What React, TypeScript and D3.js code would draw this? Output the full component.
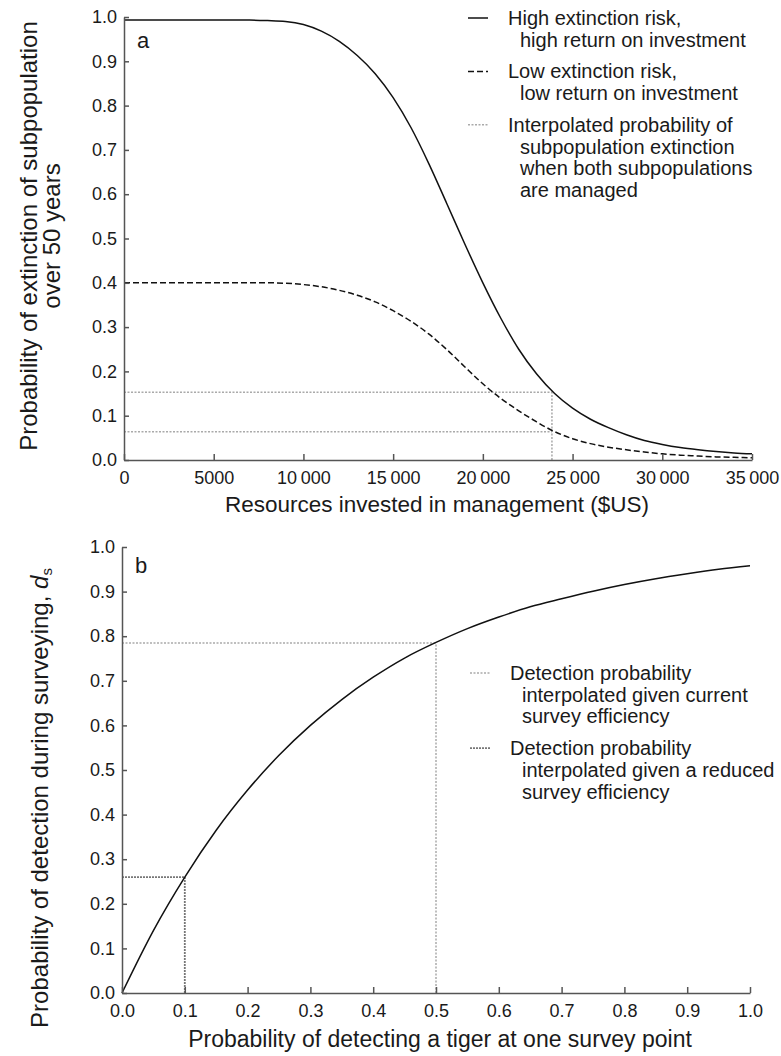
import React, { useEffect, useRef } from "react";
import * as d3 from "d3";

const FONT = '"Liberation Sans", Arial, Helvetica, sans-serif';

// Panel a: resources invested in management ($US)
const investment = [
  0, 1000, 2000, 3000, 4000, 5000, 6000, 7000, 8000, 9000, 10000, 11000, 12000,
  13000, 14000, 15000, 16000, 17000, 18000, 19000, 20000, 21000, 22000, 23000,
  24000, 25000, 26000, 27000, 28000, 29000, 30000, 31000, 32000, 33000, 34000,
  35000,
];
// high extinction risk, high return on investment
const highRisk = [
  0.993, 0.993, 0.993, 0.993, 0.993, 0.993, 0.993, 0.993, 0.992, 0.99, 0.983,
  0.968, 0.945, 0.913, 0.872, 0.818, 0.75, 0.668, 0.578, 0.487, 0.4, 0.32,
  0.25, 0.194, 0.15, 0.117, 0.092, 0.073, 0.057, 0.044, 0.035, 0.028, 0.023,
  0.019, 0.016, 0.014,
];
// low extinction risk, low return on investment
const lowRisk = [
  0.4, 0.4, 0.4, 0.4, 0.4, 0.4, 0.4, 0.4, 0.4, 0.399, 0.396, 0.391, 0.383,
  0.372, 0.357, 0.337, 0.313, 0.284, 0.249, 0.21, 0.172, 0.139, 0.111, 0.086,
  0.064, 0.048, 0.037, 0.029, 0.023, 0.018, 0.014, 0.011, 0.009, 0.007, 0.006,
  0.005,
];
const investTicks = [0, 5000, 10000, 15000, 20000, 25000, 30000, 35000];
const probTicks = [0, 0.1, 0.2, 0.3, 0.4, 0.5, 0.6, 0.7, 0.8, 0.9, 1.0];
const interpInvest = 23850;
const interpProbs = [0.153, 0.064];

// Panel b: probability of detecting a tiger at one survey point
const surveyPoint = [
  0, 0.05, 0.1, 0.15, 0.2, 0.25, 0.3, 0.35, 0.4, 0.45, 0.5, 0.55, 0.6, 0.65,
  0.7, 0.75, 0.8, 0.85, 0.9, 0.95, 1.0,
];
const detection = [
  0, 0.14, 0.26, 0.365, 0.455, 0.533, 0.6, 0.658, 0.708, 0.751, 0.786, 0.817,
  0.843, 0.866, 0.884, 0.901, 0.916, 0.929, 0.94, 0.95, 0.958,
];
const detectTicks = [0, 0.1, 0.2, 0.3, 0.4, 0.5, 0.6, 0.7, 0.8, 0.9, 1.0];
const currentEff = [0.5, 0.785];
const reducedEff = [0.1, 0.26];

const legendA = [
  { style: "solid", lines: ["High extinction risk,", "high return on investment"] },
  { style: "dashed", lines: ["Low extinction risk,", "low return on investment"] },
  {
    style: "dotted",
    lines: [
      "Interpolated probability of",
      "subpopulation extinction",
      "when both subpopulations",
      "are managed",
    ],
  },
];
const legendB = [
  { style: "dotted", lines: ["Detection probability", "interpolated given current", "survey efficiency"] },
  { style: "dotted2", lines: ["Detection probability", "interpolated given a reduced", "survey efficiency"] },
];

const AXIS = "#555";
const LIGHT = "#aaa";
const DARK = "#777";
const TEXT = "#1a1a1a";

const fmtMoney = (d: number) =>
  d >= 10000 ? `${Math.floor(d / 1000)}\u2009${String(d % 1000).padStart(3, "0")}` : `${d}`;

const lineStyle: Record<string, { dash: string; color: string; width: number }> = {
  solid: { dash: "", color: "#111", width: 1.5 },
  dashed: { dash: "6,3", color: "#111", width: 1.5 },
  dotted: { dash: "2,1.5", color: LIGHT, width: 1.5 },
  dotted2: { dash: "2,1", color: DARK, width: 1.8 },
};

function drawAxes(g: any, x: any, y: any, xTicks: number[], xFmt: any, yTicks: number[]) {
  const x0 = x.range()[0];
  const y0 = y.range()[0];
  const left = g
    .append("g")
    .attr("transform", `translate(${x0},0)`)
    .call(
      d3.axisLeft(y).tickValues(yTicks).tickSizeInner(-5).tickSizeOuter(0).tickPadding(7)
        .tickFormat((d: any) => d3.format(".1f")(d))
    );
  const bottom = g
    .append("g")
    .attr("transform", `translate(0,${y0})`)
    .call(
      d3.axisBottom(x).tickValues(xTicks).tickSizeInner(-6).tickSizeOuter(0).tickPadding(11)
        .tickFormat(xFmt)
    );
  [left, bottom].forEach((a) => {
    a.select(".domain").attr("stroke", AXIS).attr("stroke-width", 1.5);
    a.selectAll(".tick line").attr("stroke", AXIS).attr("stroke-width", 1.5);
    a.selectAll(".tick text")
      .attr("fill", TEXT)
      .style("font-family", FONT)
      .style("font-size", "18px");
  });
}

function drawLegend(svg: any, items: any[], x: number, y: number) {
  let cy = y;
  items.forEach((it) => {
    const st = lineStyle[it.style];
    svg
      .append("line")
      .attr("x1", x)
      .attr("x2", x + 20)
      .attr("y1", cy - 7)
      .attr("y2", cy - 7)
      .attr("stroke", st.color)
      .attr("stroke-width", st.width)
      .attr("stroke-dasharray", st.dash);
    it.lines.forEach((t: string, i: number) => {
      svg
        .append("text")
        .attr("x", i === 0 ? x + 40 : x + 52)
        .attr("y", cy + i * 21.7)
        .attr("fill", TEXT)
        .style("font-family", FONT)
        .style("font-size", "20px")
        .text(t);
    });
    cy += it.lines.length * 21.7 + 10;
  });
}

const App = () => {
  const svgRef = useRef<SVGSVGElement>(null);

  useEffect(() => {
    const svg = d3.select(svgRef.current);
    svg.selectAll("*").remove();

    // ---------- panel a ----------
    const xa = d3.scaleLinear().domain([0, 35000]).range([124, 752]);
    const ya = d3.scaleLinear().domain([0, 1]).range([460, 17]);
    const ga = svg.append("g");

    // interpolation guides
    interpProbs.forEach((p) => {
      ga.append("line")
        .attr("x1", xa(0)).attr("x2", xa(interpInvest))
        .attr("y1", ya(p)).attr("y2", ya(p))
        .attr("stroke", LIGHT).attr("stroke-width", 1.5).attr("stroke-dasharray", "2,1.5");
    });
    ga.append("line")
      .attr("x1", xa(interpInvest)).attr("x2", xa(interpInvest))
      .attr("y1", ya(0)).attr("y2", ya(interpProbs[0]))
      .attr("stroke", LIGHT).attr("stroke-width", 1.5).attr("stroke-dasharray", "2,1.5");

    const lineA = (vals: number[]) =>
      d3.line<number>()
        .x((_, i) => xa(investment[i]))
        .y((d) => ya(d))
        .curve(d3.curveMonotoneX)(vals);

    ga.append("path").attr("d", lineA(highRisk)).attr("fill", "none")
      .attr("stroke", "#111").attr("stroke-width", 1.5);
    ga.append("path").attr("d", lineA(lowRisk)).attr("fill", "none")
      .attr("stroke", "#111").attr("stroke-width", 1.5).attr("stroke-dasharray", "6,3");

    drawAxes(ga, xa, ya, investTicks, fmtMoney, probTicks);

    ga.append("text").attr("x", 137).attr("y", 48)
      .style("font-family", FONT).style("font-size", "22px").attr("fill", TEXT).text("a");

    ga.append("text").attr("x", 437).attr("y", 512).attr("text-anchor", "middle")
      .style("font-family", FONT).style("font-size", "22.5px").attr("fill", TEXT)
      .text("Resources invested in management ($US)");

    [["Probability of extinction of subpopulation", 37], ["over 50 years", 60]].forEach(([t, bx]) => {
      ga.append("text")
        .attr("transform", `translate(${bx},236) rotate(-90)`)
        .attr("text-anchor", "middle")
        .style("font-family", FONT).style("font-size", "24px").attr("fill", TEXT)
        .text(t as string);
    });

    drawLegend(ga, legendA, 468, 25);

    // ---------- panel b ----------
    const xb = d3.scaleLinear().domain([0, 1]).range([122, 750]);
    const yb = d3.scaleLinear().domain([0, 1]).range([993, 547]);
    const gb = svg.append("g");

    const guide = (pt: number[], color: string, dash: string, w: number) => {
      gb.append("line")
        .attr("x1", xb(0)).attr("x2", xb(pt[0]))
        .attr("y1", yb(pt[1])).attr("y2", yb(pt[1]))
        .attr("stroke", color).attr("stroke-width", w).attr("stroke-dasharray", dash);
      gb.append("line")
        .attr("x1", xb(pt[0])).attr("x2", xb(pt[0]))
        .attr("y1", yb(0)).attr("y2", yb(pt[1]))
        .attr("stroke", color).attr("stroke-width", w).attr("stroke-dasharray", dash);
    };
    guide(currentEff, LIGHT, "2,1.5", 1.5);
    guide(reducedEff, DARK, "2,1", 1.8);

    const lineB = d3.line<number>()
      .x((_, i) => xb(surveyPoint[i]))
      .y((d) => yb(d))
      .curve(d3.curveMonotoneX);
    gb.append("path").attr("d", lineB(detection)).attr("fill", "none")
      .attr("stroke", "#111").attr("stroke-width", 1.5);

    drawAxes(gb, xb, yb, detectTicks, (d: any) => d3.format(".1f")(d), detectTicks);

    gb.append("text").attr("x", 135).attr("y", 573)
      .style("font-family", FONT).style("font-size", "22px").attr("fill", TEXT).text("b");

    gb.append("text").attr("x", 440).attr("y", 1047).attr("text-anchor", "middle")
      .style("font-family", FONT).style("font-size", "23px").attr("fill", TEXT)
      .text("Probability of detecting a tiger at one survey point");

    const yt = gb.append("text")
      .attr("transform", `translate(48,798) rotate(-90)`)
      .attr("text-anchor", "middle")
      .style("font-family", FONT).style("font-size", "24px").attr("fill", TEXT);
    yt.append("tspan").text("Probability of detection during surveying, ");
    yt.append("tspan").style("font-style", "italic").text("d");
    yt.append("tspan").style("font-size", "15px").attr("dy", 4).text("s");

    drawLegend(gb, legendB, 470, 680);
  }, []);

  return (
    <svg
      ref={svgRef}
      width={781}
      height={1056}
      style={{ position: "absolute", left: 0, top: 0, background: "#fff" }}
    ></svg>
  );
};

export default App;
